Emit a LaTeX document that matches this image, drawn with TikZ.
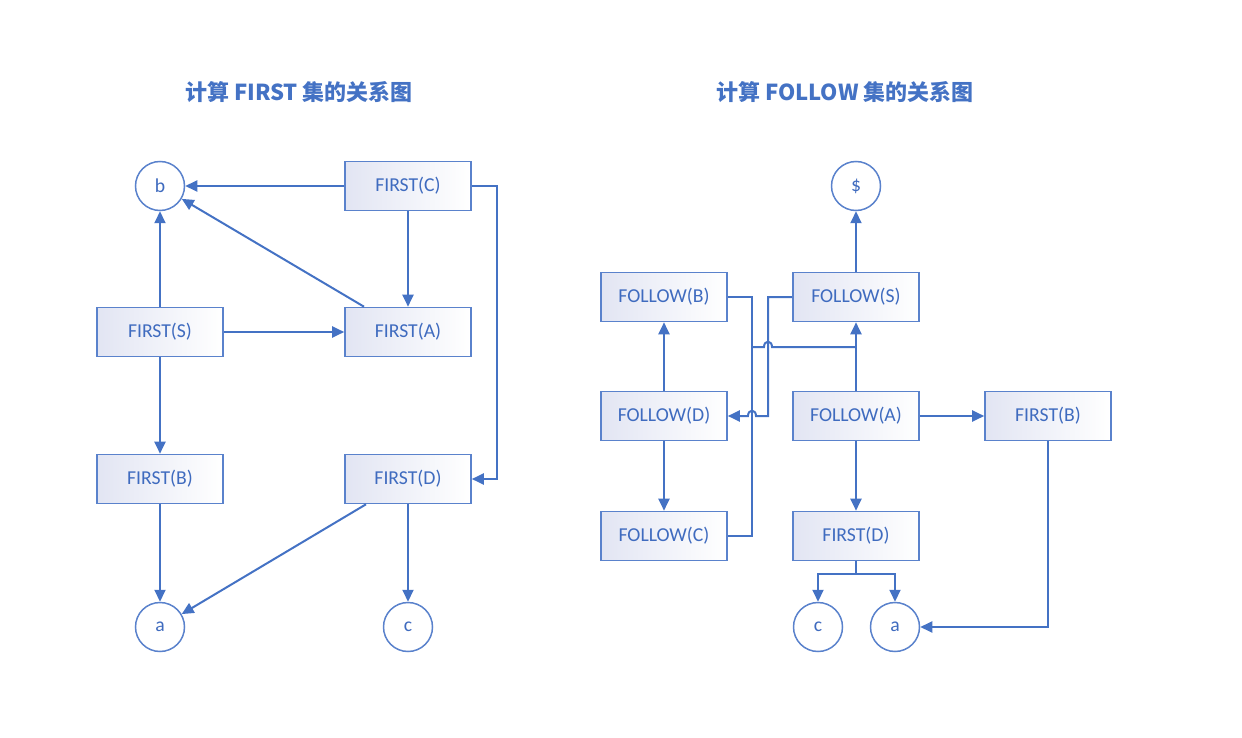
\documentclass[tikz,border=0pt]{standalone}
\usepackage{fontspec}
\setmainfont{Carlito}
\newfontfamily\cjk{Noto Sans CJK SC}
\usetikzlibrary{arrows.meta}
\definecolor{lineblue}{HTML}{4472C4}
\definecolor{edgeblue}{HTML}{5A82CC}
\definecolor{textblue}{HTML}{3F6BBF}
\definecolor{boxshade}{HTML}{E2E5F3}

\begin{document}
\begin{tikzpicture}[
    x=1pt, y=-1pt,
    font=\fontsize{19.7}{22}\selectfont,
    box/.style={rectangle, draw=edgeblue, line width=1.6pt, text=textblue,
        left color=boxshade, right color=white,
        minimum width=126pt, minimum height=49pt, inner sep=0pt},
    term/.style={circle, draw=edgeblue, line width=1.5pt, fill=white, text=textblue,
        minimum size=49pt, inner sep=0pt},
    title/.style={text=lineblue, font=\cjk\bfseries\fontsize{22}{25}\selectfont},
    line/.style={draw=lineblue, line width=2pt},
    arrow/.style={line, -{Triangle[length=12pt,width=11pt]}}
]
    \useasboundingbox (0,0) rectangle (1242,738);

    % Titles
    \node[title] (title1) at (299,92) {计算 FIRST 集的关系图};
    \node[title] (title2) at (845,92) {计算 FOLLOW 集的关系图};

    % FIRST graph
    \node[term] (b1) at (160,186) {b};
    \node[box] (fc) at (408,186) {FIRST(C)};
    \node[box] (fs) at (160,332) {FIRST(S)};
    \node[box] (fa) at (408,332) {FIRST(A)};
    \node[box] (fb) at (160,479) {FIRST(B)};
    \node[box] (fd) at (408,479) {FIRST(D)};
    \node[term] (a1) at (160,627) {a};
    \node[term] (c1) at (408,627) {c};

    \draw[arrow] (fc) -- (b1);
    \draw[arrow] (fc) -- (fa);
    \draw[arrow] ([xshift=-44pt]fa.north) -- (b1);
    \draw[arrow] (fs) -- (b1);
    \draw[arrow] (fs) -- (fa);
    \draw[arrow] (fs) -- (fb);
    \draw[arrow] (fc.east) -| ([xshift=25pt]fd.east) -- (fd.east);
    \draw[arrow] (fb) -- (a1);
    \draw[arrow] ([xshift=-42pt]fd.south) -- (a1);
    \draw[arrow] (fd) -- (c1);

    % FOLLOW graph
    \node[term] (dollar) at (856,186) {\$};
    \node[box] (flb) at (664,297) {FOLLOW(B)};
    \node[box] (fls) at (856,297) {FOLLOW(S)};
    \node[box] (fld) at (664,416) {FOLLOW(D)};
    \node[box] (fla) at (856,416) {FOLLOW(A)};
    \node[box] (rfb) at (1048,416) {FIRST(B)};
    \node[box] (flc) at (664,536) {FOLLOW(C)};
    \node[box] (rfd) at (856,536) {FIRST(D)};
    \node[term] (c2) at (818,627) {c};
    \node[term] (a2) at (895,627) {a};
    \coordinate (join) at (752,347);
    \coordinate (split) at (856,574);

    \draw[arrow] (fls) -- (dollar);
    \draw[arrow] (fld) -- (flb);
    \draw[arrow] (fld) -- (flc);
    \draw[arrow] (fla) -- (fls);
    \draw[line] (flb.east) -- (flb.east -| join) -- (flc.east -| join) -- (flc.east);
    \draw[line] (join) -- (764,347) .. controls (764,340) and (772,340) .. (772,347) -- (fla.north |- join);
    \draw[arrow] (fls.west) -- (768,297) -- (768,416) -- (756,416)
        .. controls (756,409) and (748,409) .. (748,416) -- (fld.east);
    \draw[arrow] (fla) -- (rfb);
    \draw[arrow] (fla) -- (rfd);
    \draw[line] (rfd) -- (split);
    \draw[arrow] (split) -| (c2);
    \draw[arrow] (split) -| (a2);
    \draw[arrow] (rfb.south) |- (a2);
\end{tikzpicture}
\end{document}
